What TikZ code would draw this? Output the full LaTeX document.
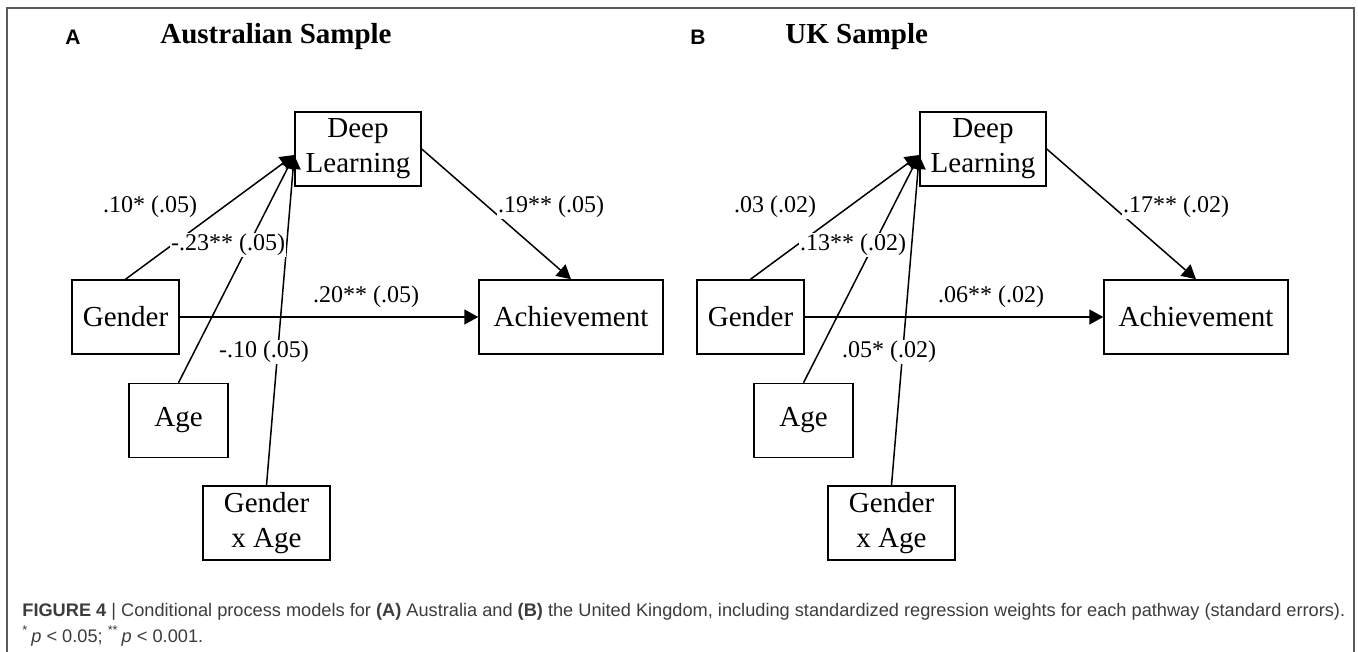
\documentclass[tikz,border=0pt]{standalone}
\usepackage{fontspec}
\setmainfont{Liberation Serif}
\setsansfont{Liberation Sans}
\newfontfamily\capfont{Liberation Sans}
\usetikzlibrary{arrows.meta}
\definecolor{framegray}{HTML}{5A5A5A}
\definecolor{capgray}{HTML}{3C3C3C}

\begin{document}
\begin{tikzpicture}[x=0.5pt,y=-0.5pt,
  box/.style={draw,line width=0.75pt,align=center,inner sep=0pt,minimum height=37pt,font=\fontsize{14.5}{17.5}\selectfont},
  lbl/.style={fill=white,inner sep=0.5pt,font=\fontsize{12}{14}\selectfont},
  link/.style={line width=0.75pt,-{Triangle[length=7pt,width=7.5pt]}},
  captxt/.style={anchor=west,inner sep=0pt,text=capgray,font=\capfont\fontsize{9.1}{11}\selectfont}]
\useasboundingbox (0,0) rectangle (1358,652);
\draw[framegray,line width=0.9pt] (7,660) -- (7,8) -- (1354,8) -- (1354,660);

\foreach \p/\dx/\ttl/\la/\lb/\lc/\ld/\le in
  {A/0/Australian Sample/.10* (.05)/-.23** (.05)/.20** (.05)/-.10 (.05)/.19** (.05),
   B/625/UK Sample/.03 (.02)/.13** (.02)/.06** (.02)/.05* (.02)/.17** (.02)}
{
\node[font=\sffamily\bfseries\fontsize{10.5}{12}\selectfont] (tag\p) at (\dx+73,37) {\p};
\node[anchor=west,inner sep=0pt,font=\bfseries\fontsize{14.5}{17}\selectfont] (ttl\p) at (\dx+160,37) {\ttl};

\node[box,minimum width=63pt] (dl\p) at (\dx+358,149) {Deep\\Learning};
\node[box,minimum width=53.5pt] (gen\p) at (\dx+125.5,317) {Gender};
\node[box,minimum width=92pt] (ach\p) at (\dx+571,317) {Achievement};
\node[box,minimum width=49.5pt] (age\p) at (\dx+178.5,420.5) {Age};
\node[box,minimum width=63.5pt] (gxa\p) at (\dx+266.5,523) {Gender\\x Age};

\coordinate (in\p) at ([yshift=-3pt]dl\p.west);
\draw[link] (gen\p.north) -- (in\p);
\draw[link] (age\p.north) -- (in\p);
\draw[link] (gxa\p.north) -- (in\p);
\draw[link] (gen\p) -- (ach\p);
\draw[link] (dl\p.east) -- (ach\p.north);

\node[lbl] (la\p) at (\dx+150,207) {\la};
\node[lbl] (lb\p) at (\dx+228,245) {\lb};
\node[lbl] (lc\p) at (\dx+366,297) {\lc};
\node[lbl] (ld\p) at (\dx+264,352) {\ld};
\node[lbl] (le\p) at (\dx+551,207) {\le};
}

\node[captxt] (cap1) at (22,612) {\textbf{FIGURE 4} | Conditional process models for \textbf{(A)} Australia and \textbf{(B)} the United Kingdom, including standardized regression weights for each pathway (standard errors).};
\node[captxt] (cap2) at (22,636) {\textsuperscript{*}\,\textit{p} < 0.05; \textsuperscript{**}\,\textit{p} < 0.001.};
\end{tikzpicture}
\end{document}
